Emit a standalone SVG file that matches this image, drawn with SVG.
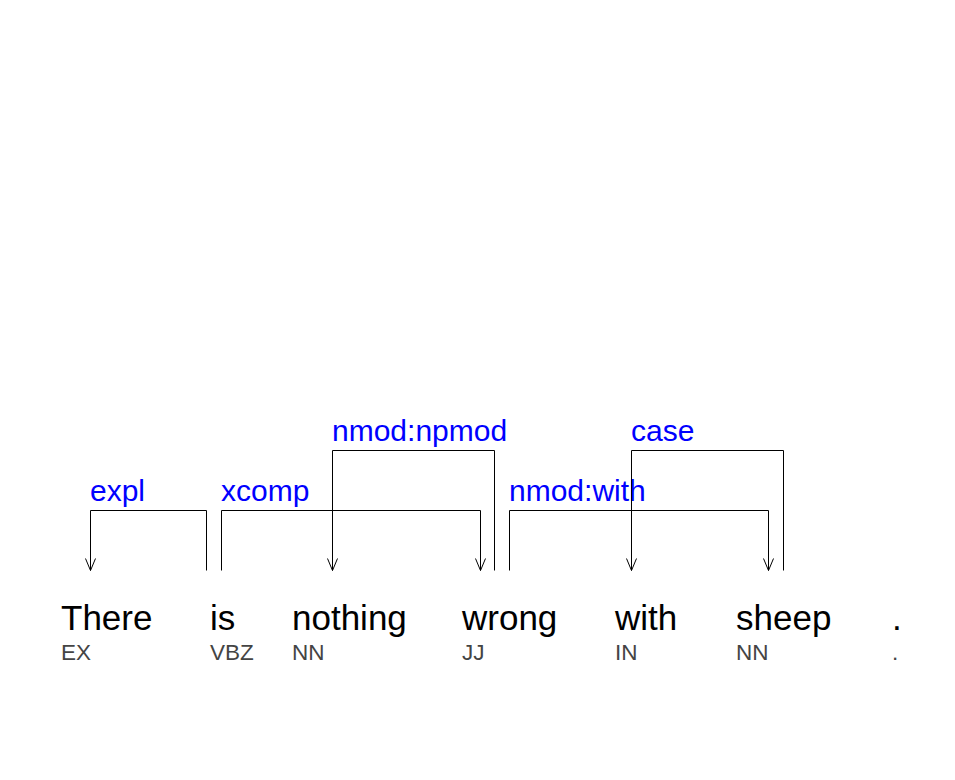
<svg xmlns="http://www.w3.org/2000/svg" width="955" height="780" viewBox="0 0 955 780">
<style>
.w{font-family:"Liberation Sans",Arial,sans-serif;font-size:35px;fill:#000}
.t{font-family:"Liberation Sans",Arial,sans-serif;font-size:22.5px;fill:#444}
.l{font-family:"Liberation Sans",Arial,sans-serif;font-size:30px;fill:#0000ff}
.e{fill:none;stroke:#000;stroke-width:1}
</style>
<rect width="955" height="780" fill="#fff"/>
<g id="n0"><text class="w" x="61" y="630">There</text><text class="t" x="61" y="660">EX</text></g>
<g id="n1"><text class="w" x="210" y="630">is</text><text class="t" x="210" y="660">VBZ</text></g>
<g id="n2"><text class="w" x="292" y="630">nothing</text><text class="t" x="292" y="660">NN</text></g>
<g id="n3"><text class="w" x="462" y="630">wrong</text><text class="t" x="462" y="660">JJ</text></g>
<g id="n4"><text class="w" x="615" y="630">with</text><text class="t" x="615" y="660">IN</text></g>
<g id="n5"><text class="w" x="736" y="630">sheep</text><text class="t" x="736" y="660">NN</text></g>
<g id="n6"><text class="w" x="892" y="630">.</text><text class="t" x="892" y="660">.</text></g>
<g id="edges">
<path class="e" d="M206.5,570.5V510.5H90.5V570.5M85.5,558.5L90.5,570.5L95.5,558.5"/>
<text class="l" x="90" y="501">expl</text>
<path class="e" d="M221.5,570.5V510.5H480.5V570.5M475.5,558.5L480.5,570.5L485.5,558.5"/>
<text class="l" x="221" y="501">xcomp</text>
<path class="e" d="M494.5,570.5V450.5H332.5V570.5M327.5,558.5L332.5,570.5L337.5,558.5"/>
<text class="l" x="332" y="441">nmod:npmod</text>
<path class="e" d="M509.5,570.5V510.5H768.5V570.5M763.5,558.5L768.5,570.5L773.5,558.5"/>
<text class="l" x="509" y="501">nmod:with</text>
<path class="e" d="M783.5,570.5V450.5H631.5V570.5M626.5,558.5L631.5,570.5L636.5,558.5"/>
<text class="l" x="631" y="441">case</text>
</g>
</svg>
